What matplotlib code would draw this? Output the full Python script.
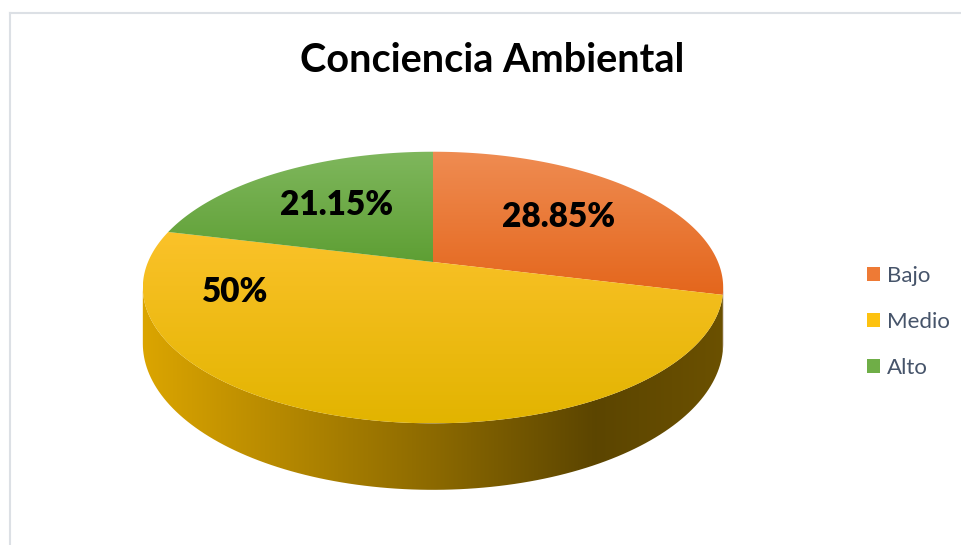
import numpy as np
import matplotlib.pyplot as plt
from matplotlib.patches import Polygon, Patch
from matplotlib.colors import LinearSegmentedColormap, to_rgb

plt.rcParams['font.family'] = ['Lato', 'DejaVu Sans']

# data
categories = ['Bajo', 'Medio', 'Alto']
values = [28.85, 50.0, 21.15]
pct_labels = ['28.85%', '50%', '21.15%']
title = 'Conciencia Ambiental'

# style
base_colors = ['#ED7D31', '#FFC000', '#70AD47']
top_light = ['#EF8C52', '#FBC22A', '#7FB75D']
top_dark = ['#E4661C', '#E2B400', '#5E9F34']
legend_colors = ['#EE7A35', '#FDC210', '#6FAE47']

W, H = 961, 545
fig = plt.figure(figsize=(W / 100, H / 100), dpi=100)
ax = fig.add_axes([0, 0, 1, 1])

# perspective view of the disc, in pixel units
cx, cy = 433, 262
rx, ry = 285, 131
k = 0.188
depth = 54


def project(t, r=1.0, drop=0.0):
    x, y = r * np.cos(t), r * np.sin(t)
    w = 1 + k * y
    return cx + rx * x / w, cy - ry * y / w + drop / w


frac = np.array(values) / np.sum(values)
edges = np.deg2rad(90 - 360 * np.concatenate([[0], np.cumsum(frac)]))

# side wall, visible between the two silhouette tangents
a = np.arcsin(k)
vis_lo, vis_hi = -np.pi + a, -a
px_left, px_right = cx - rx * 1.02, cx + rx * 1.02
shade_x = [0.0, 0.5, 0.78, 1.0]
shade_f = [0.86, 0.55, 0.36, 0.42]

for i in range(len(values)):
    t_hi, t_lo = edges[i], edges[i + 1]
    for shift in (-2 * np.pi, 0, 2 * np.pi):
        lo = max(t_lo + shift, vis_lo)
        hi = min(t_hi + shift, vis_hi)
        if hi <= lo:
            continue
        ts = np.linspace(lo, hi, 120)
        xt, yt = project(ts)
        xb, yb = project(ts[::-1], drop=depth)
        pts = np.column_stack([np.concatenate([xt, xb]), np.concatenate([yt, yb])])
        poly = Polygon(pts, closed=True, facecolor='none', edgecolor='none')
        ax.add_patch(poly)
        cols = np.linspace(0, 1, 400)
        f = np.interp(cols, shade_x, shade_f)
        img = np.array(to_rgb(base_colors[i]))[None, None, :] * f[None, :, None]
        im = ax.imshow(img, extent=(px_left, px_right, pts[:, 1].max(), pts[:, 1].min()),
                       origin='upper', aspect='auto', interpolation='bilinear')
        im.set_clip_path(poly)

# top faces
for i in range(len(values)):
    ts = np.linspace(edges[i], edges[i + 1], 200)
    xs, ys = project(ts)
    pts = np.column_stack([np.concatenate([[cx], xs]), np.concatenate([[cy], ys])])
    poly = Polygon(pts, closed=True, facecolor='none', edgecolor='none')
    ax.add_patch(poly)
    cmap = LinearSegmentedColormap.from_list('g%d' % i, [top_light[i], top_dark[i]])
    grad = np.linspace(0, 1, 256)[:, None]
    im = ax.imshow(grad, cmap=cmap, extent=(pts[:, 0].min(), pts[:, 0].max(),
                                            pts[:, 1].max(), pts[:, 1].min()),
                   origin='upper', aspect='auto', interpolation='bilinear')
    im.set_clip_path(poly)

# data labels
label_spots = {'Medio': (-162.0, 0.70)}
for i, cat in enumerate(categories):
    if cat in label_spots:
        ang, r = label_spots[cat]
        t = np.deg2rad(ang)
    else:
        t = (edges[i] + edges[i + 1]) / 2
        r = 0.6
    lx, ly = project(t, r=r)
    ax.text(lx, ly, pct_labels[i], ha='center', va='center', fontsize=24,
            fontweight='heavy', color='black')

ax.text(492, 60, title, ha='center', va='center', fontsize=28.5, fontweight='bold',
        color='black')

handles = [Patch(facecolor=c, edgecolor='none') for c in legend_colors]
leg = ax.legend(handles, categories, loc='center left', bbox_to_anchor=(847, 322),
                bbox_transform=ax.transData, frameon=False, fontsize=16,
                handlelength=0.6, handleheight=0.6, handletextpad=0.3,
                labelspacing=1.18, labelcolor='#46546A')

# chart area border
ax.plot([10, 10], [H, 13], color='#DCE0E5', lw=1.5)
ax.plot([10, W], [13, 13], color='#DCE0E5', lw=1.5)

ax.set_xlim(0, W)
ax.set_ylim(H, 0)
ax.axis('off')

fig.savefig('out.png', dpi=100)
